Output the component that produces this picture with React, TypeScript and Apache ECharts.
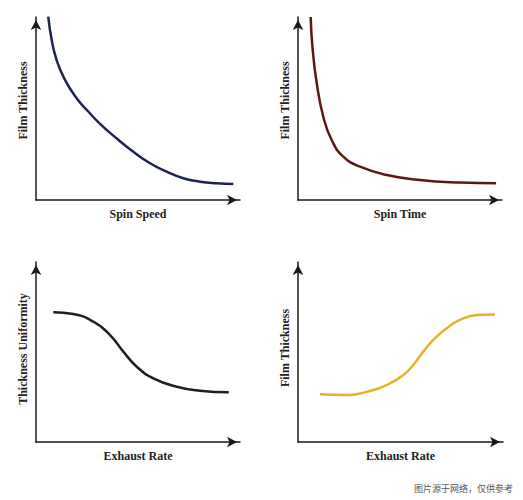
import React, { useEffect, useRef } from "react";
import * as echarts from "echarts";

// Panel titles / axis names
const xNames = ["Spin Speed", "Spin Time", "Exhaust Rate", "Exhaust Rate"];
const yNames = ["Film Thickness", "Film Thickness", "Thickness Uniformity", "Film Thickness"];
const curveColors = ["#1d2352", "#5a1a12", "#1a2318", "#e3b22e"];

// Curves (x, y in 0..100 of each panel's frame)
const spinSpeedX = [6.0, 7.7, 10.1, 14.2, 20.0, 25.5, 31.4, 39.6, 47.7, 55.9, 64.1, 72.2, 80.4, 88.6, 96.7];
const spinSpeedY = [100.2, 87.4, 76.5, 65.6, 55.5, 48.5, 41.6, 33.6, 26.4, 20.1, 15.5, 11.9, 10.0, 9.1, 8.7];

const spinTimeX = [6.2, 7.2, 9.2, 12.4, 16.5, 22.2, 30.4, 43.5, 59.8, 79.4, 97.1];
const spinTimeY = [100, 82, 63.7, 45.5, 32.8, 23.7, 18.2, 13.7, 10.9, 9.5, 9.1];

const uniformityX = [8.5, 18.3, 28.1, 36.3, 42.8, 49.4, 57.5, 69.0, 80.4, 94.5];
const uniformityY = [72.1, 71.1, 66.8, 59.4, 50.2, 41.8, 35.4, 30.7, 28.5, 27.6];

const exhaustThickX = [10.7, 22.1, 35.1, 44.9, 51.4, 56.2, 61.1, 66.0, 72.5, 79.0, 87.2, 96.1];
const exhaustThickY = [26.5, 26.1, 28.3, 32.6, 37.2, 42.8, 50.2, 56.7, 63.2, 67.8, 70.6, 70.9];

const watermark = "图片源于网络，仅供参考";

const zip = (xs: number[], ys: number[]) => xs.map((x, i) => [x, ys[i]]);

export default function App() {
  const ref = useRef<HTMLDivElement>(null);
  useEffect(() => {
    if (!ref.current) return;
    const chart = echarts.init(ref.current, null, { renderer: "svg" });
    const grids = [
      { left: 36, top: 17, width: 204, height: 183 },
      { left: 298, top: 17, width: 204, height: 183 },
      { left: 36, top: 262, width: 204, height: 180 },
      { left: 298, top: 262, width: 205, height: 180 },
    ];
    const yNameShift = [16, 16, 6, 8];
    const datasets = [
      zip(spinSpeedX, spinSpeedY),
      zip(spinTimeX, spinTimeY),
      zip(uniformityX, uniformityY),
      zip(exhaustThickX, exhaustThickY),
    ];
    const font = {
      fontFamily: "Liberation Serif",
      fontWeight: "bold" as const,
      fontSize: 12,
      color: "#222",
    };
    const axisLine = {
      show: true,
      onZero: false,
      symbol: ["none", "arrow"],
      symbolSize: [8, 10],
      symbolOffset: [0, -3],
      lineStyle: { color: "#1a1a1a", width: 1.5 },
    };
    const common = {
      type: "value" as const,
      min: 0,
      max: 100,
      axisTick: { show: false },
      axisLabel: { show: false },
      splitLine: { show: false },
      axisLine,
    };
    chart.setOption({
      animation: false,
      backgroundColor: "#fff",
      grid: grids.map((g) => ({ ...g, containLabel: false })),
      xAxis: xNames.map((n, i) => ({
        ...common,
        gridIndex: i,
        name: n,
        nameLocation: "middle",
        nameGap: 8,
        nameTextStyle: { ...font, verticalAlign: "top" },
      })),
      yAxis: yNames.map((n, i) => ({
        ...common,
        gridIndex: i,
        name: n,
        nameLocation: "middle",
        nameGap: 7,
        nameTextStyle: { ...font, padding: [0, 0, 0, yNameShift[i]] },
      })),
      series: datasets.map((d, i) => ({
        type: "line",
        xAxisIndex: i,
        yAxisIndex: i,
        data: d,
        smooth: 0.5,
        showSymbol: false,
        clip: false,
        lineStyle: { color: curveColors[i], width: 2.5 },
      })),
      graphic: [
        {
          type: "text",
          right: 10,
          top: 484,
          style: {
            text: watermark,
            fontFamily: "Noto Sans CJK SC",
            fontSize: 9,
            fill: "#555",
          },
        },
      ],
    });
    return () => chart.dispose();
  }, []);
  return (
    <div
      ref={ref}
      style={{ position: "absolute", left: 0, top: 0, width: 523, height: 500 }}
    />
  );
}
